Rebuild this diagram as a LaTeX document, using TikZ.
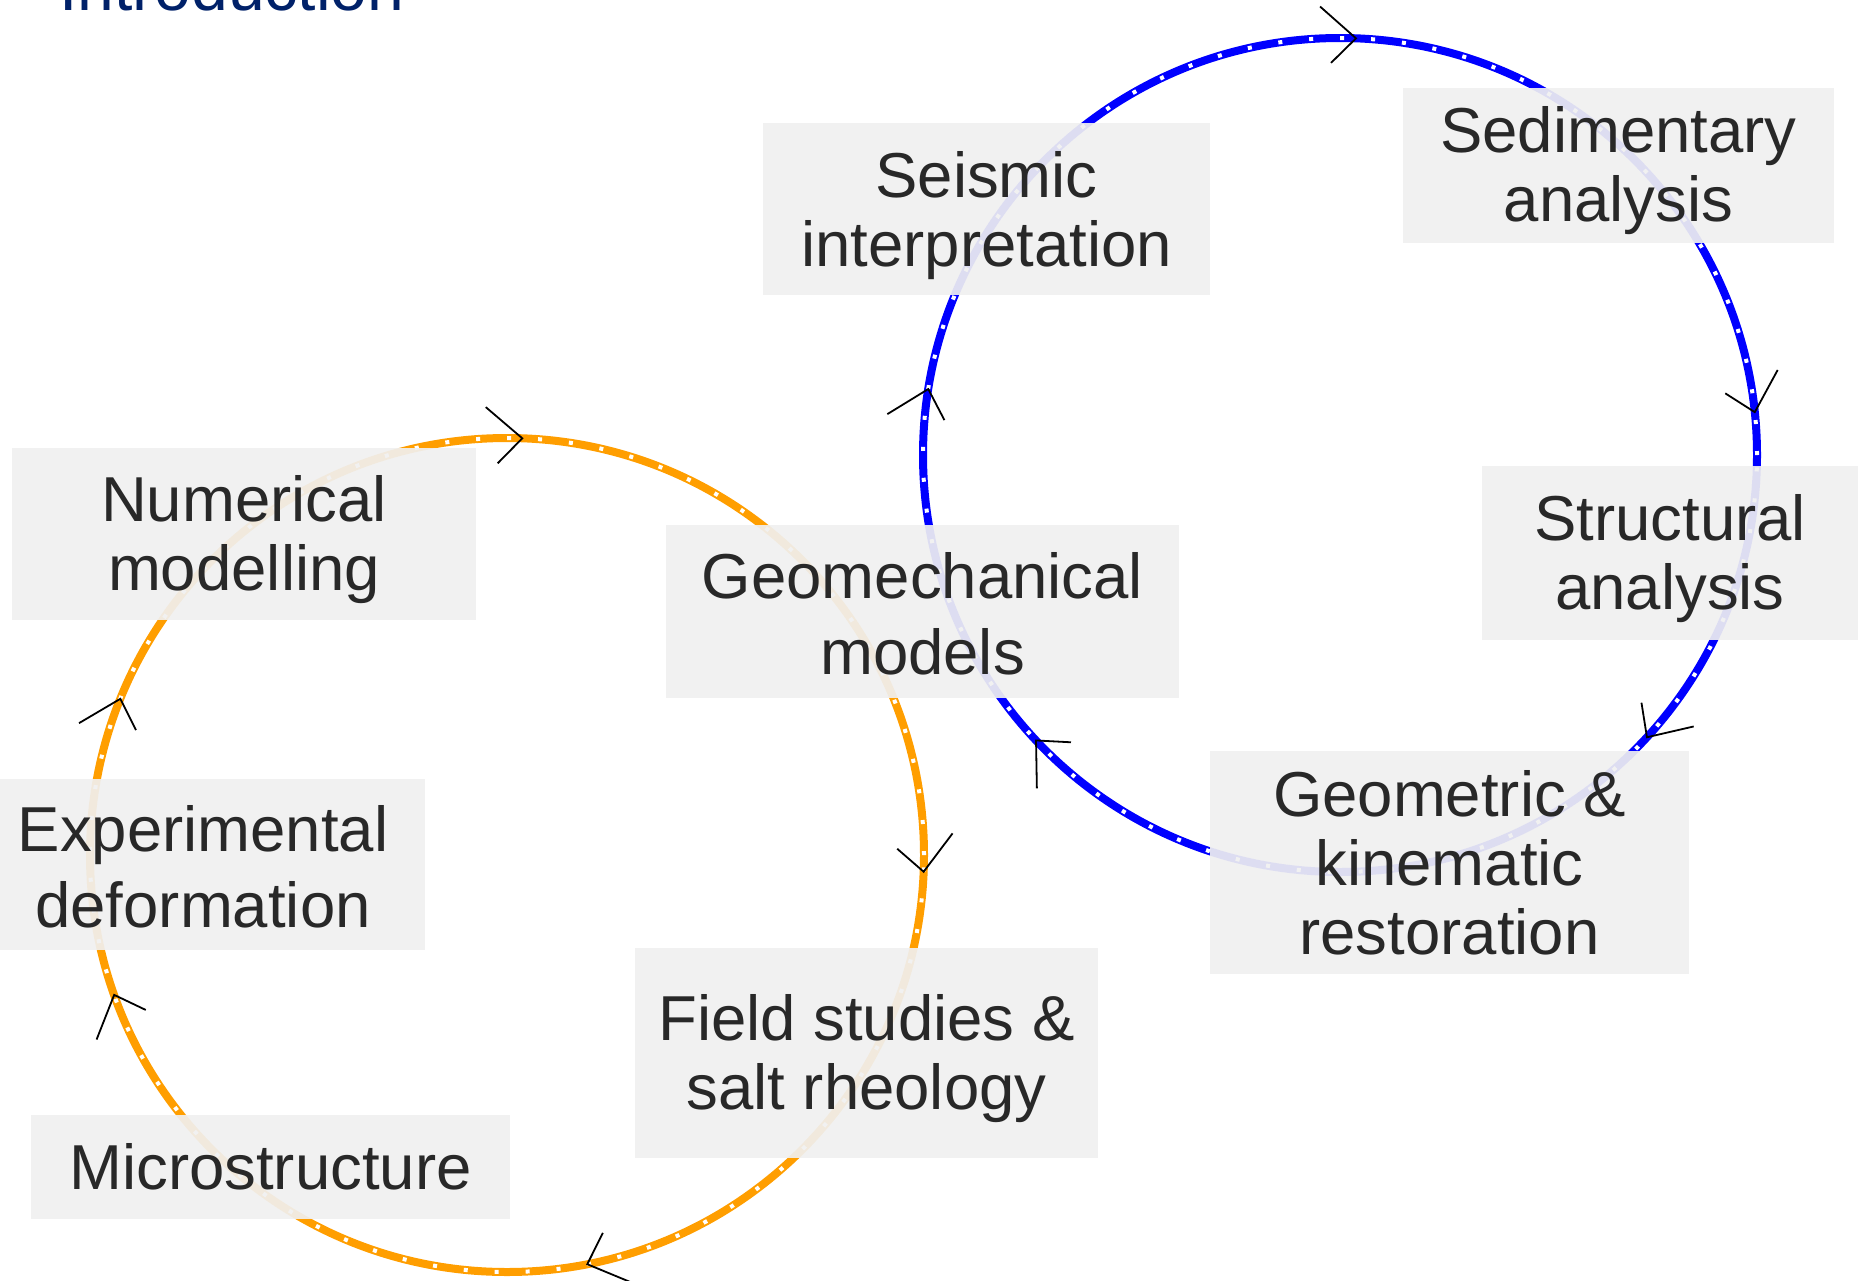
\documentclass[tikz,border=0pt]{standalone}
\usepackage{fontspec}
\setmainfont{Liberation Sans}
\usepackage{xcolor}
\definecolor{ringblue}{RGB}{0,0,255}
\definecolor{ringorange}{RGB}{255,158,0}
\definecolor{boxgray}{RGB}{240,240,240}
\definecolor{txtgray}{RGB}{40,40,40}
\definecolor{navy}{RGB}{0,33,105}
% strut for the first line of a label
\newcommand{\firstln}[1]{\rule{0pt}{#1}}

\begin{document}
\begin{tikzpicture}[x=0.5pt,y=0.5pt,
	ring/.style={line width=4pt},
	ringdots/.style={white,line width=2pt,dash pattern=on 2pt off 13.5pt},
	chev/.style={black,line width=0.9pt},
	labelbox/.style={fill=boxgray,fill opacity=0.92,text opacity=1,text=txtgray,
		align=center,inner sep=0pt,font=\fontsize{31.75}{34.5}\selectfont}]
	\useasboundingbox (0,0) rectangle (1858,-1280);
	\clip (0,0) rectangle (1858,-1280);
	\node[anchor=base west,inner sep=0pt,text=navy,font=\fontsize{33}{35}\selectfont] (title) at (59,-10) {Introduction};
	% the two cycles
	\coordinate (bc) at (1340,-455);
	\coordinate (oc) at (507,-855);
	\draw[ring,ringblue] (bc) circle[radius=417];
	\draw[ringdots] (bc) circle[radius=417];
	\draw[ring,ringorange] (oc) circle[radius=417];
	\draw[ringdots] (oc) circle[radius=417];
	% direction marks
	\foreach \c/\p/\t in {bc/87.8/1.5, bc/170.9/74.5, bc/5.9/284.5, bc/317.4/236, bc/223.2/134,
		oc/87.9/2.5, oc/357.7/276, oc/281.1/200.5, oc/199.6/111.5, oc/158/73.5}
		\draw[chev] (\c) ++(\p:417) ++(\t+137:48) -- ++(\t-43:48) -- ++(\t+223:35);
	% labels
	\node[labelbox,minimum width=223.5pt,minimum height=86pt] (seismic) at (986.5,-209) {\firstln{29.5pt}Seismic\\interpretation};
	\node[labelbox,minimum width=215.5pt,minimum height=77.5pt] (sediment) at (1618.5,-165.5) {\firstln{28pt}Sedimentary\\analysis};
	\node[labelbox,minimum width=188pt,minimum height=87pt] (struct) at (1670,-553) {\firstln{28.5pt}Structural\\analysis};
	\node[labelbox,minimum width=239.5pt,minimum height=111.5pt] (restore) at (1449.5,-862.5) {Geometric \&\\kinematic\\restoration};
	\node[labelbox,minimum width=256.5pt,minimum height=86.5pt,font=\fontsize{31.75}{38}\selectfont] (geomech) at (922.5,-611.5) {\firstln{25.5pt}Geomechanical\\models};
	\node[labelbox,minimum width=232pt,minimum height=86pt] (numerical) at (244,-534) {\firstln{29pt}Numerical\\modelling};
	\node[labelbox,minimum width=212.5pt,minimum height=85.5pt,font=\fontsize{31.75}{38}\selectfont] (experiment) at (212.5,-864.5) {\firstln{25.5pt}Experimental\hspace*{9.5pt}\\deformation\hspace*{9.5pt}};
	\node[labelbox,minimum width=231.5pt,minimum height=105pt] (field) at (866.5,-1053) {\firstln{29pt}Field studies \&\\salt rheology};
	\node[labelbox,minimum width=239.5pt,minimum height=52pt] (micro) at (270.5,-1167) {Microstructure};
\end{tikzpicture}
\end{document}
